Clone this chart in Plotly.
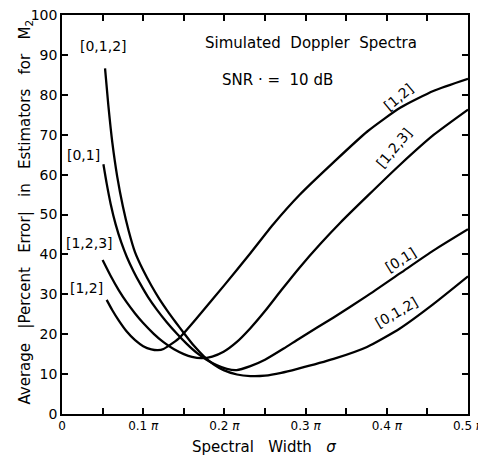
import plotly.graph_objects as go

# Spectral width sigma in units of pi
x012 = [0.053, 0.057, 0.062, 0.068, 0.075, 0.082, 0.090, 0.100, 0.110, 0.120, 0.130, 0.140, 0.150, 0.162,
        0.175, 0.187, 0.199, 0.2155, 0.232, 0.250, 0.270, 0.290, 0.3345, 0.3756, 0.4166, 0.4577, 0.500]
y012 = [86.6, 77.5, 68.0, 59.5, 52.0, 46.0, 40.5, 36.0, 32.2, 28.8, 25.8, 23.0, 20.3, 17.2,
        14.4, 12.4, 11.0, 9.9, 9.5, 9.6, 10.3, 11.3, 13.8, 16.8, 21.5, 27.6, 34.5]

x01 = [0.051, 0.055, 0.060, 0.066, 0.073, 0.080, 0.088, 0.0964, 0.106, 0.117, 0.129, 0.1416, 0.154, 0.166,
       0.178, 0.191, 0.203, 0.215, 0.232, 0.250, 0.273, 0.293, 0.3345, 0.3756, 0.4166, 0.4577, 0.500]
y01 = [62.6, 57.8, 52.6, 47.6, 43.0, 39.3, 35.8, 32.6, 29.3, 26.1, 23.0, 20.1, 17.5, 15.3,
       13.6, 12.2, 11.3, 11.0, 12.0, 13.6, 16.4, 19.0, 24.2, 29.6, 35.3, 41.0, 46.3]

x123 = [0.050, 0.060, 0.070, 0.080, 0.090, 0.100, 0.113, 0.125, 0.138, 0.150, 0.160, 0.172, 0.185, 0.199,
        0.215, 0.232, 0.250, 0.270, 0.293, 0.318, 0.343, 0.376, 0.417, 0.458, 0.500]
y123 = [38.6, 34.6, 31.0, 27.9, 25.2, 22.8, 20.1, 18.0, 16.2, 15.0, 14.3, 14.0, 14.4, 15.6,
        18.0, 21.5, 25.8, 31.0, 36.8, 42.6, 48.0, 54.6, 62.6, 70.0, 76.3]

x12 = [0.055, 0.062, 0.070, 0.080, 0.090, 0.100, 0.110, 0.118, 0.125, 0.1436, 0.170, 0.200, 0.232,
       0.260, 0.293, 0.334, 0.376, 0.417, 0.458, 0.500]
y12 = [28.6, 26.0, 23.4, 20.6, 18.5, 17.0, 16.2, 16.0, 16.3, 18.9, 25.0, 32.3, 40.3,
       47.5, 55.0, 63.0, 70.8, 76.8, 81.0, 84.0]

x_tickvals = [0, 0.1, 0.2, 0.3, 0.4, 0.5]
x_ticktext = ["0", "0.1 <i>π</i>", "0.2 <i>π</i>", "0.3 <i>π</i>", "0.4 <i>π</i>", "0.5 <i>π</i>"]
y_tickvals = [0, 10, 20, 30, 40, 50, 60, 70, 80, 90, 100]

FONT = "DejaVu Sans"

fig = go.Figure()
for xs, ys in [(x012, y012), (x01, y01), (x123, y123), (x12, y12)]:
    fig.add_trace(go.Scatter(x=xs, y=ys, mode="lines",
                             line=dict(color="black", width=2.3, shape="spline", smoothing=0.6),
                             showlegend=False, hoverinfo="skip"))

ann = []
# left labels
for txt, x, y in [("[0,1,2]", 0.051, 92.2), ("[0,1]", 0.0266, 64.9),
                  ("[1,2,3]", 0.0336, 42.9), ("[1,2]", 0.0305, 31.7)]:
    ann.append(dict(text=txt, x=x, y=y, xref="x", yref="y", showarrow=False,
                    font=dict(family=FONT, size=14, color="black")))
# rotated right labels
for txt, x, y, ang in [("[1,2]", 0.4145, 79.4, -40), ("[1,2,3]", 0.409, 66.6, -50),
                       ("[0,1]", 0.4166, 38.6, -32), ("[0,1,2]", 0.4125, 25.6, -30)]:
    ann.append(dict(text=txt, x=x, y=y, xref="x", yref="y", showarrow=False, textangle=ang,
                    font=dict(family=FONT, size=14, color="black")))
ann.append(dict(text="Simulated  Doppler  Spectra", x=0.3064, y=93.1, xref="x", yref="y",
                showarrow=False, font=dict(family=FONT, size=15, color="black")))
ann.append(dict(text="SNR · =  10 dB", x=0.2658, y=83.6, xref="x", yref="y",
                showarrow=False, font=dict(family=FONT, size=15, color="black")))
ann.append(dict(text="Average   |Percent   Error|   in   Estimators   for   M<sub>2</sub>",
                x=-0.091, y=0.505, xref="paper", yref="paper", showarrow=False, textangle=-90,
                xanchor="center", yanchor="middle", font=dict(family=FONT, size=15, color="black")))
ann.append(dict(text="Spectral   Width   <i>σ</i>", x=0.4975, y=-0.0827, xref="paper", yref="paper",
                showarrow=False, xanchor="center", yanchor="middle",
                font=dict(family=FONT, size=15, color="black")))

# page body has an 8px margin, so the figure is drawn offset by (8, 8)
fig.update_layout(
    width=486, height=455,
    margin=dict(l=54, r=26, t=7, b=49, autoexpand=False),
    paper_bgcolor="white", plot_bgcolor="white",
    annotations=ann,
    font=dict(family=FONT, size=13, color="black"),
)
fig.update_xaxes(range=[0, 0.5], tickvals=x_tickvals, ticktext=x_ticktext, automargin=False,
                 ticks="inside", ticklen=6, tickwidth=1.5, tickcolor="black", ticklabeloverflow="allow",
                 minor=dict(dtick=0.05, tick0=0, ticks="inside", ticklen=6, tickwidth=1.5, tickcolor="black"),
                 showline=True, linecolor="black", linewidth=1.6, mirror="ticks",
                 showgrid=False, zeroline=False, tickfont=dict(family=FONT, size=12))
fig.update_yaxes(range=[0, 100], tickvals=y_tickvals, automargin=False,
                 ticks="inside", ticklen=6, tickwidth=1.5, tickcolor="black", ticklabeloverflow="allow",
                 showline=True, linecolor="black", linewidth=1.6, mirror="ticks",
                 showgrid=False, zeroline=False, tickfont=dict(family=FONT, size=14))

fig.write_html("out.html")
